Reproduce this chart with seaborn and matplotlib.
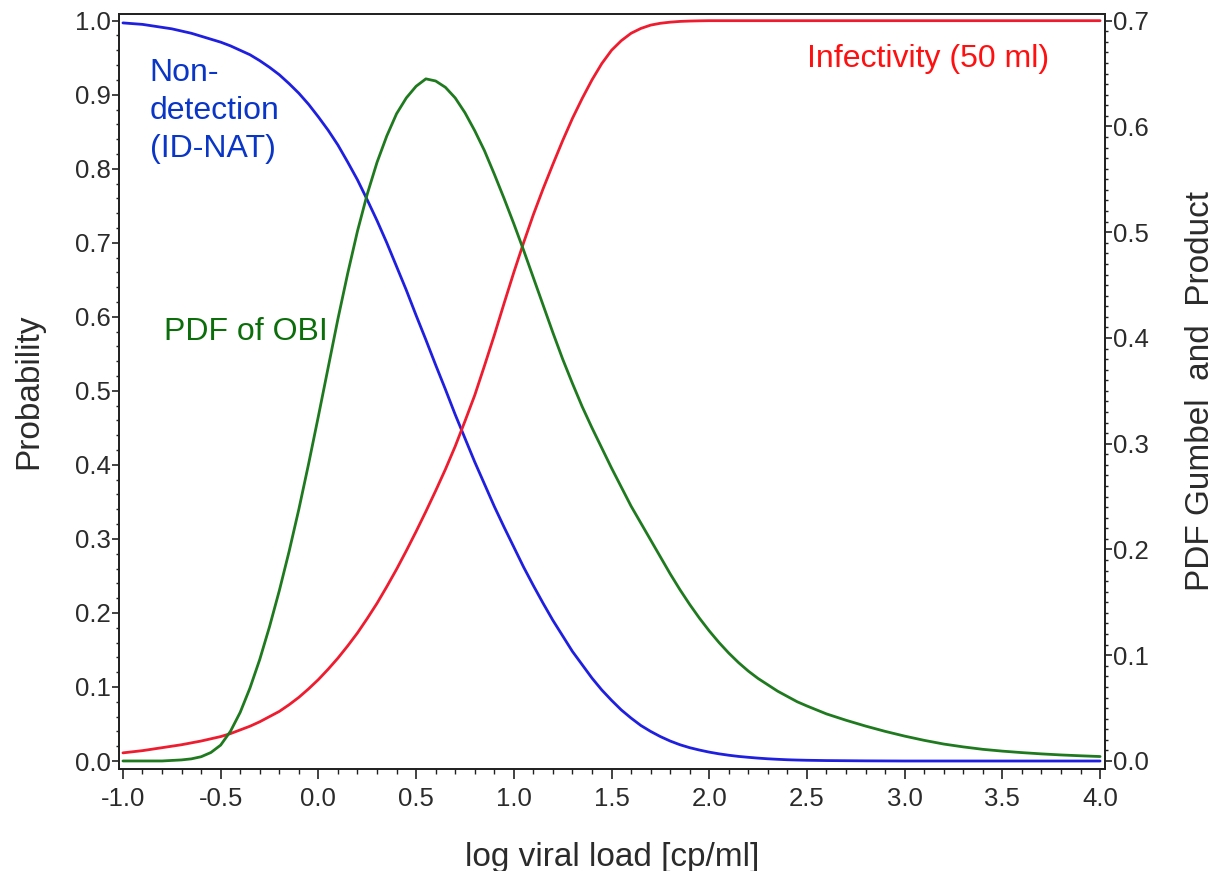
import matplotlib
matplotlib.use("Agg")
import matplotlib.pyplot as plt
from matplotlib.ticker import MultipleLocator, FormatStrFormatter
import pandas as pd
import seaborn as sns

# log10 viral load grid [cp/ml]
log_load = [-1.00, -0.95, -0.90, -0.85, -0.80, -0.75, -0.70, -0.65, -0.60, -0.55,
            -0.50, -0.45, -0.40, -0.35, -0.30, -0.25, -0.20, -0.15, -0.10, -0.05,
            0.00, 0.05, 0.10, 0.15, 0.20, 0.25, 0.30, 0.35, 0.40, 0.45,
            0.50, 0.55, 0.60, 0.65, 0.70, 0.75, 0.80, 0.85, 0.90, 0.95,
            1.00, 1.05, 1.10, 1.15, 1.20, 1.25, 1.30, 1.35, 1.40, 1.45,
            1.50, 1.55, 1.60, 1.65, 1.70, 1.75, 1.80, 1.85, 1.90, 1.95,
            2.00, 2.05, 2.10, 2.15, 2.20, 2.25, 2.30, 2.35, 2.40, 2.45,
            2.50, 2.6, 2.7, 2.8, 2.9, 3.0, 3.1, 3.2, 3.3, 3.4,
            3.5, 3.6, 3.7, 3.8, 3.9, 4.0]

# probability of non-detection by individual-donation NAT (left axis)
non_detection = [0.997, 0.996, 0.995, 0.993, 0.991, 0.989, 0.986, 0.983, 0.979, 0.975,
                 0.971, 0.966, 0.960, 0.954, 0.946, 0.937, 0.927, 0.915, 0.902, 0.887,
                 0.870, 0.852, 0.832, 0.809, 0.785, 0.758, 0.730, 0.700, 0.668, 0.636,
                 0.602, 0.569, 0.535, 0.502, 0.468, 0.436, 0.404, 0.374, 0.344, 0.316,
                 0.289, 0.262, 0.237, 0.213, 0.190, 0.169, 0.148, 0.130, 0.112, 0.096,
                 0.082, 0.069, 0.058, 0.048, 0.040, 0.033, 0.027, 0.022, 0.018, 0.0148,
                 0.0120, 0.0097, 0.0078, 0.0062, 0.0050, 0.0039, 0.0030, 0.0023, 0.0017, 0.0013,
                 0.0010, 0.0006, 0.0004, 0.0002, 0.0001, 0.000, 0.000, 0.000, 0.000, 0.000,
                 0.000, 0.000, 0.000, 0.000, 0.000, 0.000]

# infectivity of a 50 ml transfusion (left axis)
infectivity = [0.011, 0.0125, 0.014, 0.016, 0.018, 0.020, 0.022, 0.0245, 0.027, 0.030,
               0.033, 0.037, 0.042, 0.047, 0.053, 0.060, 0.067, 0.076, 0.086, 0.0975,
               0.110, 0.124, 0.139, 0.1555, 0.173, 0.1925, 0.213, 0.2355, 0.259, 0.284,
               0.310, 0.337, 0.365, 0.394, 0.425, 0.459, 0.494, 0.534, 0.575, 0.618,
               0.660, 0.700, 0.738, 0.773, 0.806, 0.838, 0.868, 0.895, 0.920, 0.942,
               0.960, 0.973, 0.983, 0.9895, 0.994, 0.9965, 0.998, 0.999, 0.9995, 0.9998,
               1.000, 1.000, 1.000, 1.000, 1.000, 1.000, 1.000, 1.000, 1.000, 1.000,
               1.000, 1.000, 1.000, 1.000, 1.000, 1.000, 1.000, 1.000, 1.000, 1.000,
               1.000, 1.000, 1.000, 1.000, 1.000, 1.000]

# Gumbel density of occult HBV infection viral loads (right axis)
pdf_obi = [0.000, 0.000, 0.000, 0.000, 0.000, 0.0005, 0.001, 0.002, 0.004, 0.008,
           0.015, 0.028, 0.046, 0.069, 0.096, 0.127, 0.161, 0.198, 0.238, 0.281,
           0.326, 0.372, 0.418, 0.461, 0.501, 0.536, 0.566, 0.591, 0.612, 0.627,
           0.638, 0.645, 0.643, 0.637, 0.627, 0.613, 0.596, 0.577, 0.555, 0.532,
           0.508, 0.483, 0.457, 0.431, 0.405, 0.380, 0.357, 0.335, 0.315, 0.296,
           0.277, 0.259, 0.241, 0.225, 0.209, 0.193, 0.177, 0.162, 0.148, 0.135,
           0.123, 0.112, 0.102, 0.093, 0.085, 0.078, 0.072, 0.066, 0.061, 0.056,
           0.052, 0.0445, 0.0385, 0.033, 0.028, 0.0235, 0.0195, 0.016, 0.0133, 0.011,
           0.0093, 0.0079, 0.0067, 0.0057, 0.0049, 0.0042]

df = pd.DataFrame({
    "log_load": log_load,
    "non_detection": non_detection,
    "infectivity": infectivity,
    "pdf_obi": pdf_obi,
})

sns.set_theme(style="ticks")
plt.rcParams["font.family"] = ["Liberation Sans", "DejaVu Sans"]

BLUE = "#1f1fe0"
RED = "#ee1c2e"
GREEN = "#1f7a1f"
TEXT = "#2b2b2b"
EDGE = "#222222"

fig = plt.figure(figsize=(12.16, 8.71), dpi=100)
ax = fig.add_axes([0.0979, 0.1171, 0.8108, 0.8674])
ax2 = ax.twinx()

sns.lineplot(data=df, x="log_load", y="non_detection", ax=ax, color=BLUE, linewidth=2.0)
sns.lineplot(data=df, x="log_load", y="infectivity", ax=ax, color=RED, linewidth=2.0)
sns.lineplot(data=df, x="log_load", y="pdf_obi", ax=ax2, color=GREEN, linewidth=2.0)

ax.set_xlim(-1.02, 4.025)
ax.set_ylim(-0.0108, 1.0097)
ax2.set_ylim(-0.0076, 0.7068)

ax.xaxis.set_major_locator(MultipleLocator(0.5))
ax.xaxis.set_minor_locator(MultipleLocator(0.1))
ax.yaxis.set_major_locator(MultipleLocator(0.1))
ax.yaxis.set_minor_locator(MultipleLocator(0.02))
ax2.yaxis.set_major_locator(MultipleLocator(0.1))
ax2.yaxis.set_minor_locator(MultipleLocator(0.01))
for axis in (ax.xaxis, ax.yaxis, ax2.yaxis):
    axis.set_major_formatter(FormatStrFormatter("%.1f"))

for a in (ax, ax2):
    for s in a.spines.values():
        s.set_visible(True)
        s.set_color(EDGE)
        s.set_linewidth(1.3)

ax.tick_params(axis="x", which="major", direction="out", length=7, width=1.2,
               color=EDGE, labelsize=18.5, labelcolor=TEXT, pad=6)
ax.tick_params(axis="x", which="minor", direction="out", length=3.5, width=1.0, color=EDGE)
ax.tick_params(axis="y", which="major", direction="out", length=5, width=1.2,
               color=EDGE, labelsize=18.5, labelcolor=TEXT, pad=1)
ax.tick_params(axis="y", which="minor", direction="out", length=2.5, width=1.0, color=EDGE)
ax2.tick_params(axis="y", which="major", direction="out", length=5, width=1.2,
                color=EDGE, labelsize=18.5, labelcolor=TEXT, pad=1)
ax2.tick_params(axis="y", which="minor", direction="out", length=2.5, width=1.0, color=EDGE)

ax.set_xlabel("log viral load [cp/ml]", fontsize=24, color=TEXT)
ax.set_ylabel("Probability", fontsize=24, color=TEXT, rotation=90, va="center", ha="center")
ax2.set_ylabel("PDF Gumbel  and  Product", fontsize=24, color=TEXT, rotation=90,
               va="center", ha="center")
ax.xaxis.set_label_coords(0.5, -0.096)
ax.yaxis.set_label_coords(-0.092, 0.5)
ax2.yaxis.set_label_coords(1.097, 0.5)

ax.text(0.031, 0.941, "Non-\ndetection\n(ID-NAT)", transform=ax.transAxes,
        ha="left", va="top", fontsize=23, color="#0a36c8", linespacing=1.35)
ax.text(0.698, 0.9296, "Infectivity (50 ml)", transform=ax.transAxes,
        ha="left", va="baseline", fontsize=23, color="#ff1010")
ax.text(0.046, 0.568, "PDF of OBI", transform=ax.transAxes,
        ha="left", va="baseline", fontsize=23, color="#0b6e0b")

fig.savefig("out.png", dpi=100, facecolor="white")
